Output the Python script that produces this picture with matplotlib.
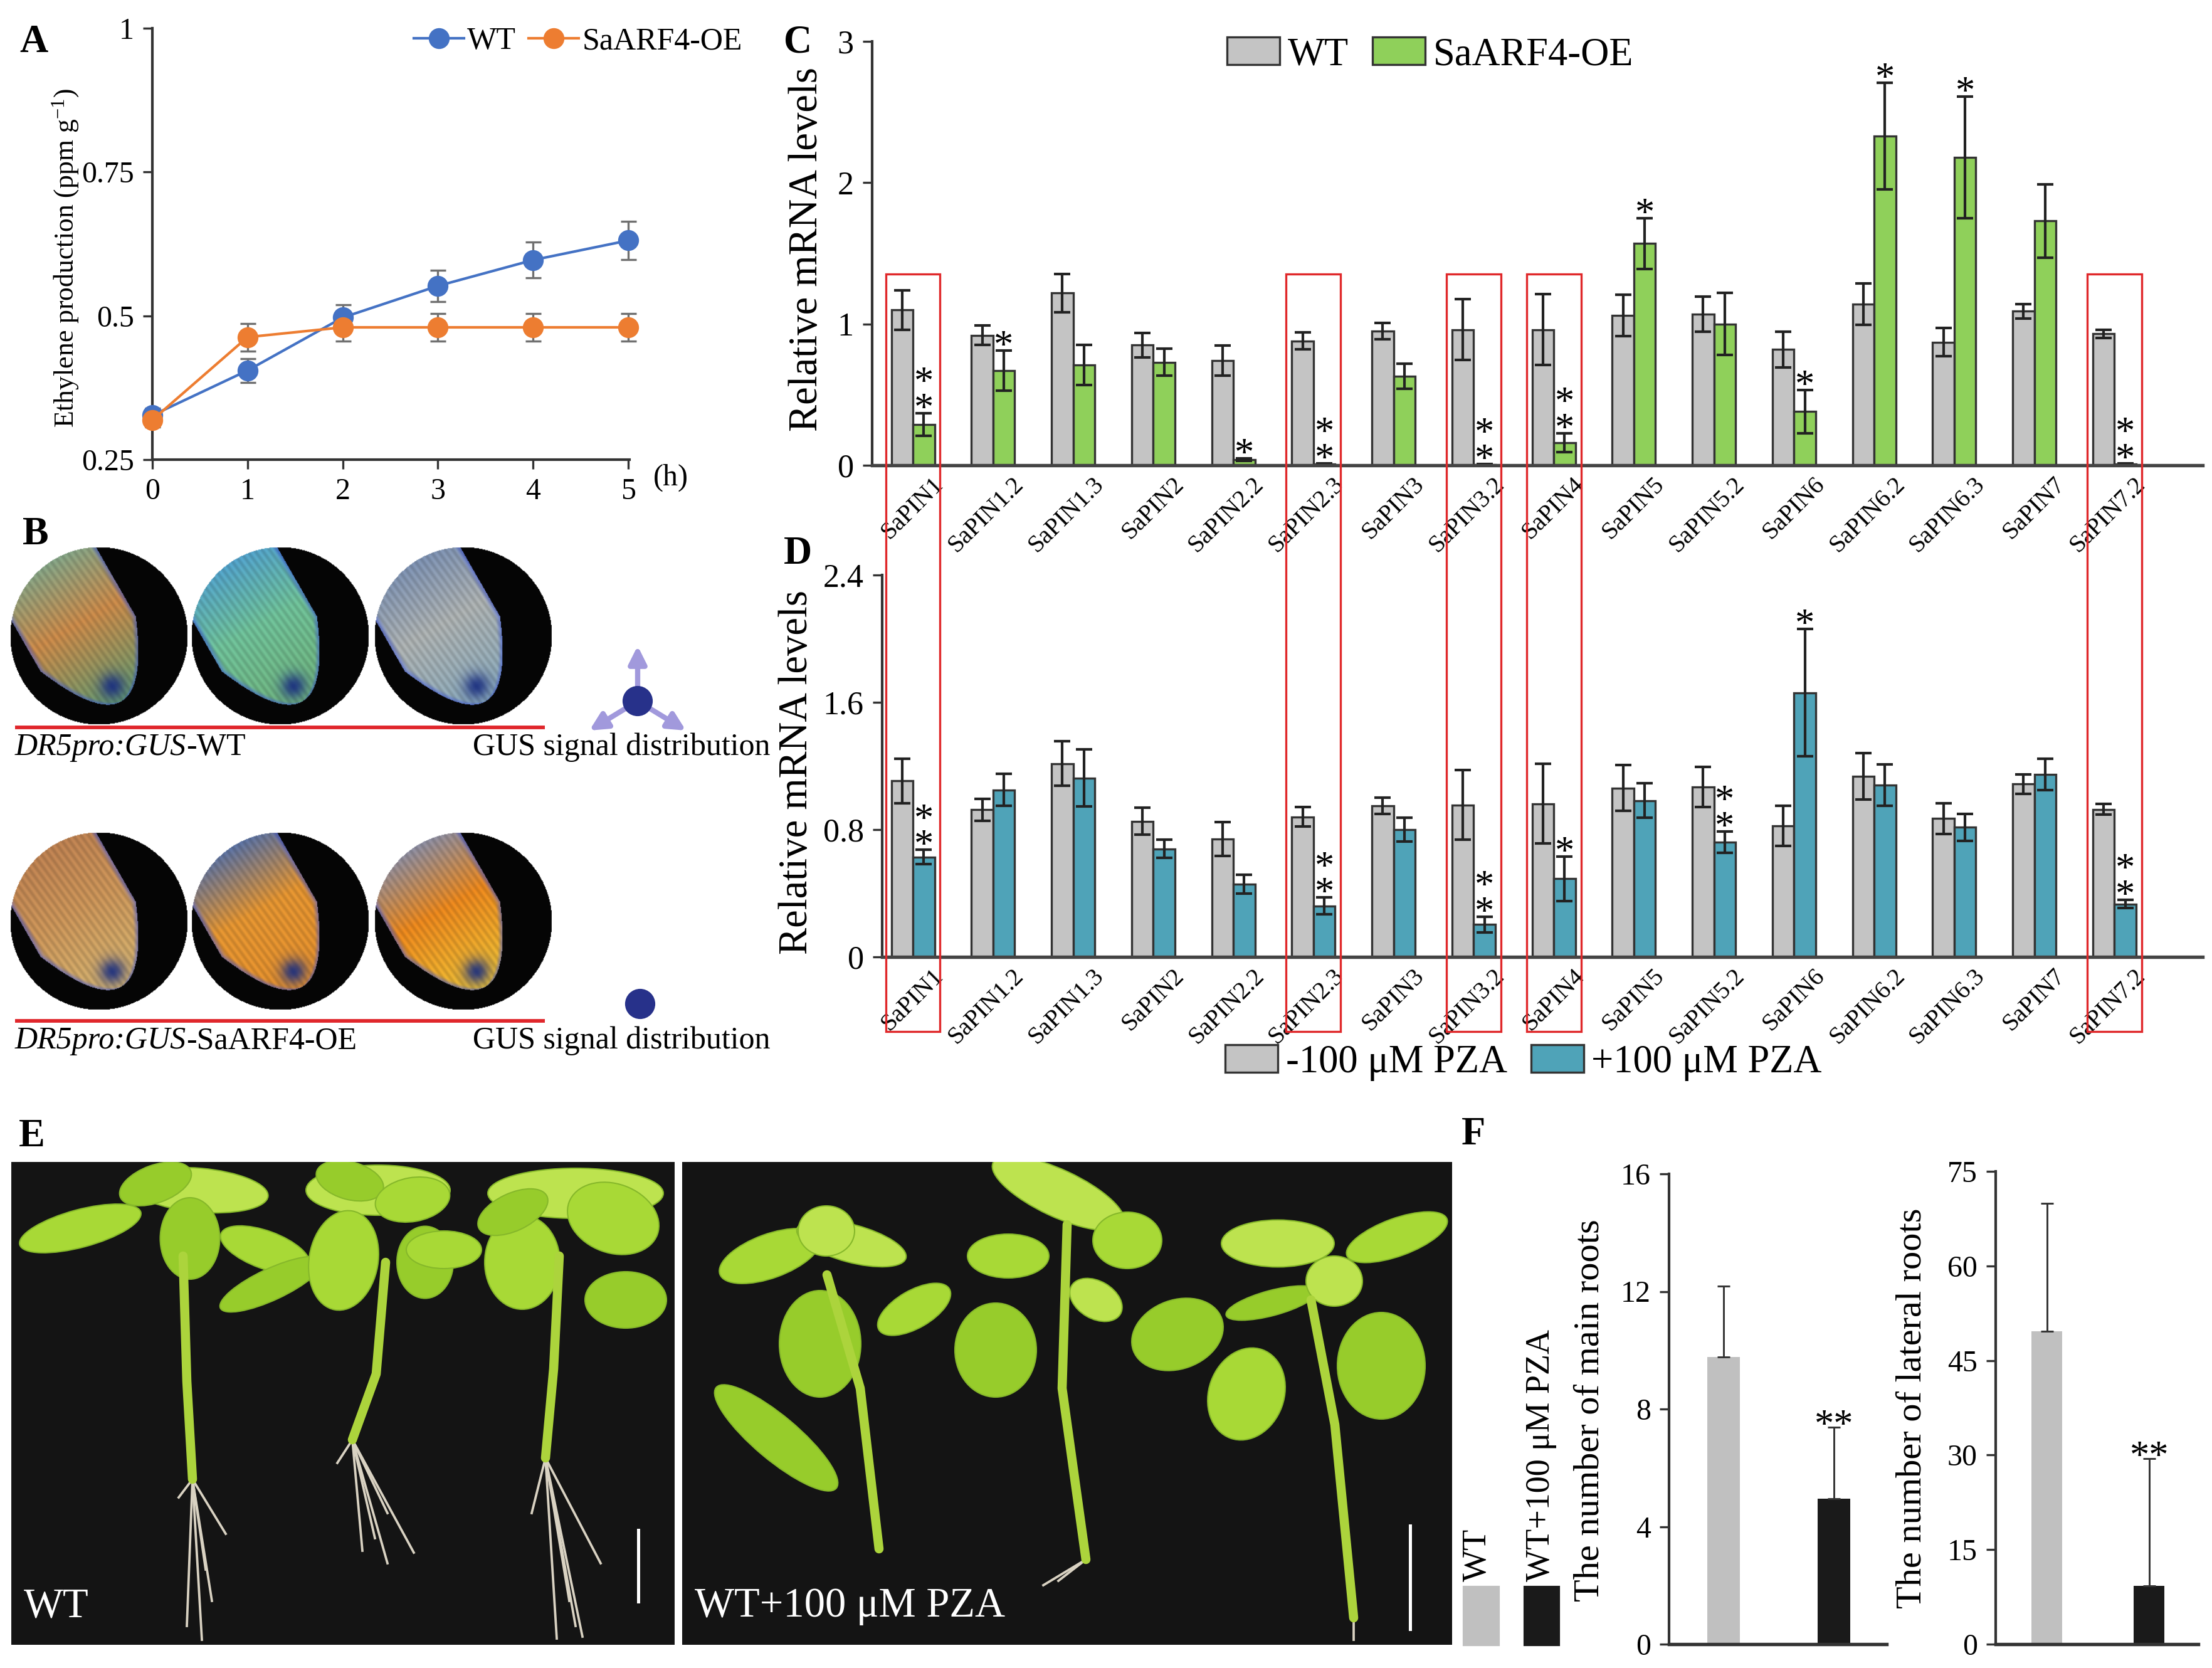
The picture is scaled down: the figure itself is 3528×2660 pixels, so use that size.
import matplotlib.pyplot as plt
import numpy as np
from matplotlib.patches import Rectangle, Ellipse, Circle, Patch
from matplotlib.transforms import blended_transform_factory, ScaledTranslation
from matplotlib.offsetbox import TextArea, HPacker, AnnotationBbox

plt.rcParams['font.family'] = ['Liberation Serif', 'DejaVu Serif']
plt.rcParams['mathtext.fontset'] = 'custom'
plt.rcParams['mathtext.rm'] = 'Liberation Serif'
plt.rcParams['mathtext.it'] = 'Liberation Serif:italic'

W, H = 3528, 2660
DPI = 300

# ---- data ----
hours = [0, 1, 2, 3, 4, 5]
eth_wt = [0.327, 0.405, 0.497, 0.552, 0.597, 0.631]
eth_wt_err = [0.012, 0.021, 0.022, 0.027, 0.031, 0.033]
eth_oe = [0.319, 0.463, 0.480, 0.480, 0.480, 0.480]
eth_oe_err = [0.012, 0.024, 0.024, 0.024, 0.024, 0.024]

genes = ['SaPIN1', 'SaPIN1.2', 'SaPIN1.3', 'SaPIN2', 'SaPIN2.2', 'SaPIN2.3', 'SaPIN3', 'SaPIN3.2',
         'SaPIN4', 'SaPIN5', 'SaPIN5.2', 'SaPIN6', 'SaPIN6.2', 'SaPIN6.3', 'SaPIN7', 'SaPIN7.2']
c_wt = [1.10, 0.92, 1.22, 0.85, 0.74, 0.88, 0.95, 0.96, 0.96, 1.06, 1.07, 0.82, 1.14, 0.87, 1.09, 0.93]
c_wt_err = [0.14, 0.07, 0.135, 0.086, 0.106, 0.06, 0.057, 0.215, 0.25, 0.145, 0.125, 0.127, 0.147, 0.10, 0.052, 0.03]
c_oe = [0.29, 0.67, 0.71, 0.73, 0.04, 0.01, 0.63, 0.005, 0.16, 1.57, 1.00, 0.38, 2.33, 2.18, 1.73, 0.01]
c_oe_err = [0.08, 0.14, 0.14, 0.097, 0.01, 0.005, 0.09, 0.005, 0.068, 0.18, 0.22, 0.154, 0.378, 0.43, 0.26, 0.005]
c_sig = ['**', '*', '', '', '*', '**', '', '**', '**', '*', '', '*', '*', '*', '', '**']

d_ctrl = [1.106, 0.925, 1.215, 0.853, 0.74, 0.88, 0.95, 0.955, 0.962, 1.061, 1.068, 0.824, 1.134, 0.869, 1.086, 0.928]
d_ctrl_err = [0.14, 0.07, 0.14, 0.086, 0.106, 0.06, 0.05, 0.22, 0.25, 0.143, 0.125, 0.125, 0.145, 0.097, 0.06, 0.034]
d_pza = [0.627, 1.05, 1.124, 0.679, 0.457, 0.321, 0.80, 0.204, 0.491, 0.982, 0.722, 1.661, 1.079, 0.814, 1.147, 0.333]
d_pza_err = [0.045, 0.10, 0.18, 0.056, 0.06, 0.052, 0.075, 0.05, 0.14, 0.109, 0.068, 0.40, 0.13, 0.084, 0.10, 0.027]
d_sig = ['**', '', '', '', '', '**', '', '**', '*', '', '**', '*', '', '', '', '**']
boxed = ['SaPIN1', 'SaPIN2.3', 'SaPIN3.2', 'SaPIN4', 'SaPIN7.2']

root_groups = ['WT', 'WT+100 μM PZA']
main_roots = [9.77, 4.95]
main_roots_err = [2.41, 2.44]
lateral_roots = [49.6, 9.24]
lateral_roots_err = [20.3, 20.2]
root_sig = ['', '**']

fig = plt.figure(figsize=(W / DPI, H / DPI), dpi=DPI)


def px_axes(l, t, r, b):
    return fig.add_axes([l / W, 1 - b / H, (r - l) / W, (b - t) / H])


def fx(x):
    return x / W


def fy(y):
    return 1 - y / H


def style_axes(ax, size):
    for s in ['top', 'right']:
        ax.spines[s].set_visible(False)
    for s in ['left', 'bottom']:
        ax.spines[s].set_color('#333333')
        ax.spines[s].set_linewidth(1.0)
    ax.tick_params(direction='out', length=3.5, width=0.8, color='#333333', labelsize=size)


# ---- A: ethylene production ----
ax_a = px_axes(243, 45, 1004, 733)
ax_a.errorbar(hours, eth_wt, yerr=eth_wt_err, fmt='none', ecolor='#707070', elinewidth=0.8, capsize=3, capthick=0.8, clip_on=False)
ax_a.errorbar(hours, eth_oe, yerr=eth_oe_err, fmt='none', ecolor='#707070', elinewidth=0.8, capsize=3, capthick=0.8, clip_on=False)
ax_a.plot(hours, eth_wt, '-o', color='#4472C4', lw=1.0, ms=7, label='WT', clip_on=False, zorder=3)
ax_a.plot(hours, eth_oe, '-o', color='#ED7D31', lw=1.0, ms=7, label='SaARF4-OE', clip_on=False, zorder=3)
ax_a.set_xlim(0, 5.013)
ax_a.set_ylim(0.25, 1)
ax_a.set_xticks(hours)
ax_a.set_yticks([0.25, 0.5, 0.75, 1])
ax_a.set_yticklabels(['0.25', '0.5', '0.75', '1'])
style_axes(ax_a, 11.5)
fig.text(fx(105), fy(412), 'Ethylene production (ppm g$^{\\mathregular{-1}}$)', rotation=90,
         ha='center', va='center', fontsize=10.5)
fig.text(fx(1070), fy(762), '(h)', ha='center', va='center', fontsize=11.5)
fig.legend(*ax_a.get_legend_handles_labels(), loc='center', bbox_to_anchor=(fx(922), fy(66)),
           ncol=2, frameon=False, fontsize=12, handlelength=1.6, handletextpad=0.1, columnspacing=0.4)

# ---- B: GUS staining pictures (drawn as simple illustrations) ----
ax_b = px_axes(0, 820, 1250, 1700)
ax_b.axis('off')


def root_image(stops, n=260):
    yy, xx = np.mgrid[-1:1:n * 1j, -1:1:n * 1j]
    inside = xx ** 2 + yy ** 2 <= 1
    d = np.array([0.5, 0.87])
    d = d / np.linalg.norm(d)
    rx, ry = xx - 0.25, yy - 0.74
    u = rx * d[0] + ry * d[1]
    v = -rx * d[1] + ry * d[0]
    halfw = 0.62 * np.sqrt(np.clip(-u / 0.75, 0, 1))
    root = (u < 0) & (np.abs(v) < halfw)
    t = np.clip(1 + u / 2.0, 0, 1)[..., None]
    c0, c1, c2 = [np.array(c) for c in stops]
    col = np.where(t < 0.5, c0 + (c1 - c0) * (t / 0.5), c1 + (c2 - c1) * ((t - 0.5) / 0.5))
    col = col * (0.93 + 0.07 * np.sin(v * 90 + u * 10))[..., None]
    spot = np.exp(-((rx + 0.2 * d[0]) ** 2 + (ry + 0.2 * d[1]) ** 2) / 0.02)[..., None] * 0.9
    col = col * (1 - spot) + np.array([0.1, 0.18, 0.5]) * spot
    edge = np.clip(1 - (halfw - np.abs(v)) / 0.06, 0, 1)[..., None] * 0.55
    col = col * (1 - edge) + np.array([0.2, 0.3, 0.85]) * edge
    img = np.zeros((n, n, 4))
    img[..., :3] = np.where(root[..., None], col, 0.02)
    img[..., 3] = inside
    return np.clip(img, 0, 1)


tip_colors = [
    [(0.45, 0.7, 0.62), (0.82, 0.56, 0.3), (0.4, 0.62, 0.45)],
    [(0.3, 0.62, 0.88), (0.45, 0.78, 0.62), (0.45, 0.72, 0.5)],
    [(0.45, 0.55, 0.72), (0.7, 0.72, 0.72), (0.55, 0.68, 0.75)],
    [(0.75, 0.5, 0.32), (0.82, 0.6, 0.36), (0.85, 0.72, 0.45)],
    [(0.2, 0.42, 0.8), (0.92, 0.6, 0.2), (0.92, 0.58, 0.18)],
    [(0.45, 0.58, 0.82), (0.95, 0.55, 0.12), (0.95, 0.78, 0.22)],
]
centers = [(158, 1014), (447, 1014), (739, 1014), (158, 1469), (447, 1469), (739, 1469)]
r = 142
for (cx, cy), stops in zip(centers, tip_colors):
    ax_b.imshow(root_image(stops), extent=(cx - r, cx + r, cy + r, cy - r), aspect='auto', interpolation='bilinear')
ax_b.set_xlim(0, 1250)
ax_b.set_ylim(1700, 820)
ax_b.plot([24, 869], [1160, 1160], color='#e0262b', lw=1.4, solid_capstyle='butt')
ax_b.plot([24, 869], [1628, 1628], color='#e0262b', lw=1.4, solid_capstyle='butt')
for y, tail in [(1192, '-WT'), (1660, '-SaARF4-OE')]:
    box = HPacker(children=[TextArea('DR5pro:GUS', textprops=dict(fontsize=12, style='italic')),
                            TextArea(tail, textprops=dict(fontsize=12))], sep=0, pad=0)
    ax_b.add_artist(AnnotationBbox(box, (24, y), xycoords='data', box_alignment=(0, 0.5), frameon=False, pad=0))
    ax_b.text(754, y, 'GUS signal distribution', ha='left', va='center', fontsize=12)
ax_b.add_patch(Circle((1017, 1118), 22, color='#27318a', zorder=4))
for end in [(1017, 1030), (940, 1165), (1094, 1165)]:
    ax_b.annotate('', xy=end, xytext=(1017, 1118),
                  arrowprops=dict(arrowstyle='-|>', color='#a199dc', lw=2.0, mutation_scale=14, shrinkA=0, shrinkB=0))
ax_b.add_patch(Circle((1021, 1601), 22, color='#27318a'))

# ---- C and D: PIN expression ----
x = np.arange(len(genes))


def pin_panel(ax, v1, e1, v2, e2, sig, col2, xmin, ymax, yticks, ylabels):
    ekw = dict(ecolor='#222222', elinewidth=1.0, capsize=3.2, capthick=1.0)
    ax.bar(x - 0.135, v1, 0.27, color='#c4c4c4', edgecolor='#333333', lw=0.8, yerr=e1, error_kw=ekw)
    ax.bar(x + 0.135, v2, 0.27, color=col2, edgecolor='#333333', lw=0.8, yerr=e2, error_kw=ekw)
    for i, s in enumerate(sig):
        if s:
            ax.annotate('\n'.join(s), (x[i] + 0.135, v2[i] + e2[i]), xytext=(0, -6.0),
                        textcoords='offset points', ha='center', va='bottom', fontsize=15,
                        linespacing=0.62)
    ax.set_xlim(xmin, 16.1)
    ax.set_ylim(0, ymax)
    ax.set_yticks(yticks)
    ax.set_yticklabels(ylabels)
    style_axes(ax, 12.5)
    ax.spines['bottom'].set_linewidth(1.3)
    ax.spines['bottom'].set_color('#444444')
    ax.set_xticks(x)
    ax.set_xticklabels(genes, rotation=45, ha='right', va='top', rotation_mode='anchor', fontsize=9.5)
    ax.tick_params(axis='x', length=0, pad=3)
    shift = ScaledTranslation(0.1, 0, fig.dpi_scale_trans)
    for lab in ax.get_xticklabels():
        lab.set_transform(lab.get_transform() + shift)


ax_c = px_axes(1391, 66, 3513, 742)
pin_panel(ax_c, c_wt, c_wt_err, c_oe, c_oe_err, c_sig, '#8fd05a', -0.509, 3, [0, 1, 2, 3], ['0', '1', '2', '3'])
ax_d = px_axes(1407, 917, 3513, 1526)
pin_panel(ax_d, d_ctrl, d_ctrl_err, d_pza, d_pza_err, d_sig, '#4fa3b8', -0.384, 2.4,
          [0, 0.8, 1.6, 2.4], ['0', '0.8', '1.6', '2.4'])
fig.text(fx(1287), fy(398), 'Relative mRNA levels', rotation=90, ha='center', va='center', fontsize=15.5)
fig.text(fx(1271), fy(1232), 'Relative mRNA levels', rotation=90, ha='center', va='center', fontsize=15.5)

fig.legend(handles=[Patch(facecolor='#c4c4c4', edgecolor='#333333', lw=0.8, label='WT'),
                    Patch(facecolor='#8fd05a', edgecolor='#333333', lw=0.8, label='SaARF4-OE')],
           loc='center', bbox_to_anchor=(fx(2281), fy(88)), ncol=2, frameon=False, fontsize=15,
           handlelength=1.35, handletextpad=0.2, columnspacing=0.6)
fig.legend(handles=[Patch(facecolor='#c4c4c4', edgecolor='#333333', lw=0.8, label='-100 μM PZA'),
                    Patch(facecolor='#4fa3b8', edgecolor='#333333', lw=0.8, label='+100 μM PZA')],
           loc='center', bbox_to_anchor=(fx(2430), fy(1695)), ncol=2, frameon=False, fontsize=15,
           handlelength=1.35, handletextpad=0.2, columnspacing=0.6)

box_tr = blended_transform_factory(ax_c.transData, fig.transFigure)
for g in boxed:
    i = genes.index(g)
    fig.add_artist(Rectangle((i - 0.34, fy(1645)), 0.68, (1645 - 437) / H, transform=box_tr,
                             fill=False, edgecolor='#e0282a', lw=0.8))

# ---- E: seedling photos (drawn as simple illustrations) ----
def photo(l, r, plants, label, bar_x, bar_y):
    ax = px_axes(l, 1853, r, 2623)
    w = r - l
    ax.set_xlim(0, w)
    ax.set_ylim(770, 0)
    ax.axis('off')
    ax.add_patch(Rectangle((0, 0), w, 770, color='#141414'))
    for stem, leaves, roots in plants:
        sx, sy = zip(*stem)
        for end in roots:
            ax.plot([stem[-1][0], end[0]], [stem[-1][1], end[1]], color='#d9d2c2', lw=0.9)
        ax.plot(sx, sy, color='#acd43c', lw=3.5, solid_capstyle='round')
        for (ex, ey, ew, eh, ang, c) in leaves:
            ax.add_patch(Ellipse((ex, ey), ew, eh, angle=ang, facecolor=c, edgecolor='#86b82a', lw=0.5))
    ax.text(20, 725, label, color='white', fontsize=16, ha='left', va='baseline')
    ax.plot([bar_x, bar_x], bar_y, color='white', lw=1.2)


g1, g2, g3 = '#a8d936', '#97cc2b', '#bde34f'
plants_wt = [
    ([(274, 150), (280, 350), (289, 506)],
     [(110, 106, 200, 60, -15, g1), (300, 45, 220, 70, 5, g3), (230, 35, 120, 60, -20, g2),
      (285, 122, 95, 130, 0, g2), (405, 140, 150, 60, 20, g1), (415, 195, 180, 50, -25, g2)],
     [(304, 762), (342, 593), (267, 535), (320, 700), (280, 740), (310, 650)]),
    ([(597, 160), (582, 338), (544, 443)],
     [(585, 45, 230, 80, 0, g3), (540, 30, 110, 60, 15, g2), (530, 157, 110, 160, 10, g1),
      (660, 160, 90, 115, 0, g2), (640, 60, 120, 70, -10, g1)],
     [(642, 623), (600, 640), (520, 480), (600, 560), (560, 620), (580, 600)]),
    ([(874, 150), (865, 330), (852, 472)],
     [(900, 50, 280, 80, 0, g3), (960, 90, 150, 110, 20, g1), (815, 160, 120, 150, 0, g1),
      (980, 220, 130, 90, 0, g2), (690, 140, 120, 60, 0, g1), (800, 80, 120, 60, -25, g2)],
     [(911, 757), (890, 700), (940, 640), (870, 760), (830, 560), (900, 740)]),
]
plants_pza = [
    ([(231, 180), (284, 361), (314, 617)],
     [(220, 290, 130, 170, 0, g2), (140, 150, 170, 70, -20, g1), (270, 130, 180, 60, 15, g3),
      (150, 440, 250, 70, 40, g2), (370, 235, 130, 60, -30, g1), (230, 110, 90, 80, 0, g3)],
     []),
    ([(614, 100), (606, 361), (644, 634)],
     [(600, 50, 230, 75, 25, g3), (520, 150, 130, 70, 0, g1), (500, 300, 130, 150, 0, g2),
      (710, 125, 110, 90, 0, g1), (790, 275, 150, 110, -20, g2), (660, 220, 90, 60, 30, g3)],
     [(576, 675), (600, 668)]),
    ([(1003, 220), (1041, 419), (1071, 727)],
     [(950, 130, 180, 75, 0, g3), (1140, 120, 170, 60, -20, g1), (1115, 325, 140, 170, 0, g2),
      (900, 370, 120, 150, 20, g1), (940, 225, 150, 40, -15, g2), (1040, 190, 90, 80, 0, g3)],
     [(1071, 762)]),
]
photo(18, 1076, plants_wt, 'WT', 1000, [587, 701])
photo(1088, 2316, plants_pza, 'WT+100 μM PZA', 1161, [580, 745])

# ---- F: root numbers ----
fig.add_artist(Rectangle((fx(2335), fy(2623)), 55 / W, 92 / H, color='#c0c0c0'))
fig.add_artist(Rectangle((fx(2432), fy(2623)), 54 / W, 92 / H, color='#1a1a1a'))
fig.text(fx(2357), fy(2522), root_groups[0], rotation=90, ha='center', va='bottom', fontsize=13)
fig.text(fx(2458), fy(2522), root_groups[1], rotation=90, ha='center', va='bottom', fontsize=13)


def root_panel(ax, vals, errs, xmin, xmax, ymax, yticks):
    ax.bar([0, 1], vals, 0.3, color=['#c0c0c0', '#1a1a1a'])
    ax.errorbar([0, 1], vals, yerr=[[0, 0], errs], fmt='none', ecolor='#333333', elinewidth=0.7,
                capsize=2.5, capthick=0.7)
    for i, s in enumerate(root_sig):
        if s:
            ax.annotate(s, (i, vals[i] + errs[i]), xytext=(0, -3.6), textcoords='offset points',
                        ha='center', va='baseline', fontsize=15)
    ax.set_xlim(xmin, xmax)
    ax.set_ylim(0, ymax)
    ax.set_yticks(yticks)
    ax.set_xticks([])
    style_axes(ax, 11.5)
    ax.spines['bottom'].set_linewidth(1.3)


ax_f1 = px_axes(2662, 1872, 3009, 2622)
root_panel(ax_f1, main_roots, main_roots_err, -0.494, 1.477, 16, [0, 4, 8, 12, 16])
ax_f2 = px_axes(3183, 1868, 3506, 2622)
root_panel(ax_f2, lateral_roots, lateral_roots_err, -0.503, 1.48, 75, [0, 15, 30, 45, 60, 75])
fig.text(fx(2535), fy(2249), 'The number of main roots', rotation=90, ha='center', va='center', fontsize=14)
fig.text(fx(3050), fy(2246), 'The number of lateral roots', rotation=90, ha='center', va='center', fontsize=14)

# ---- panel letters ----
for letter, px, py in [('A', 31, 83), ('B', 36, 868), ('C', 1250, 84), ('D', 1250, 899),
                       ('E', 30, 1828), ('F', 2331, 1825)]:
    fig.text(fx(px), fy(py), letter, fontsize=15, fontweight='bold', ha='left', va='baseline')

fig.savefig('out.png', dpi=DPI)
